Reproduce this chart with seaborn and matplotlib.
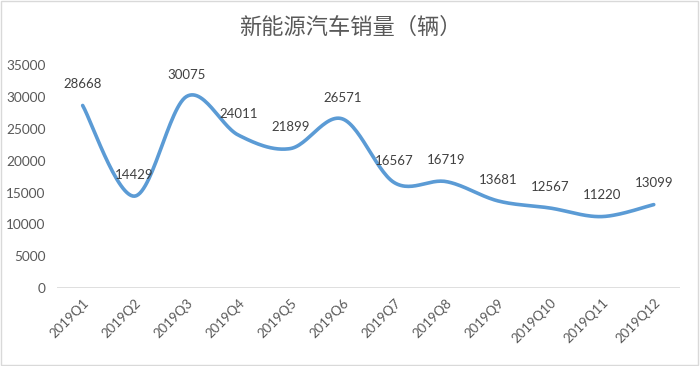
import numpy as np
import pandas as pd
import matplotlib
matplotlib.use("Agg")
import matplotlib.pyplot as plt
import seaborn as sns

# chart data
quarters = ["2019Q1", "2019Q2", "2019Q3", "2019Q4", "2019Q5", "2019Q6",
            "2019Q7", "2019Q8", "2019Q9", "2019Q10", "2019Q11", "2019Q12"]
sales = [28668, 14429, 30075, 24011, 21899, 26571,
         16567, 16719, 13681, 12567, 11220, 13099]
y_ticks = [0, 5000, 10000, 15000, 20000, 25000, 30000, 35000]
title = "新能源汽车销量（辆）"

sns.set_theme(style="white")
plt.rcParams['font.family'] = ['Noto Sans CJK SC', 'DejaVu Sans']


# Excel-like smoothed line: cubic bezier segments through the data points
def smooth_curve(xs, ys, steps=30):
    px = np.array(xs, dtype=float)
    py = np.array(ys, dtype=float)
    n = len(px)
    out_x, out_y = [], []
    t = np.linspace(0, 1, steps)
    for i in range(n - 1):
        i0, i3 = max(i - 1, 0), min(i + 2, n - 1)
        p0 = np.array([px[i], py[i]])
        p3 = np.array([px[i + 1], py[i + 1]])
        c1 = p0 + (np.array([px[i + 1], py[i + 1]]) - np.array([px[i0], py[i0]])) / 6
        c2 = p3 - (np.array([px[i3], py[i3]]) - np.array([px[i], py[i]])) / 6
        b = ((1 - t) ** 3)[:, None] * p0 + (3 * (1 - t) ** 2 * t)[:, None] * c1 \
            + (3 * (1 - t) * t ** 2)[:, None] * c2 + (t ** 3)[:, None] * p3
        out_x.extend(b[:, 0])
        out_y.extend(b[:, 1])
    return out_x, out_y


pos = list(range(len(quarters)))
sx, sy = smooth_curve(pos, sales)
curve = pd.DataFrame({"x": sx, "y": sy})

fig = plt.figure(figsize=(7, 3.66), dpi=100)
ax = fig.add_axes([0.081, 0.213, 0.890, 0.609])

sns.lineplot(data=curve, x="x", y="y", ax=ax, color="#5B9BD5",
             linewidth=2.6, sort=False, estimator=None)

for i, v in enumerate(sales):
    ax.annotate(str(v), (i, v), xytext=(0, 11), textcoords="offset points",
                ha="center", va="bottom", fontsize=9.5, color="#404040",
                family=["Lato", "DejaVu Sans"])

ax.set_xlim(-0.5, len(quarters) - 0.5)
ax.set_ylim(0, 35000)
ax.set_yticks(y_ticks)
ax.set_yticklabels([str(v) for v in y_ticks], fontsize=9.8, color="#595959",
                   family=["Lato", "DejaVu Sans"])
ax.set_xticks(pos)
ax.set_xticklabels(quarters, rotation=45, ha="right", rotation_mode="anchor",
                   fontsize=9.5, color="#595959", family=["Lato", "DejaVu Sans"])
ax.tick_params(axis="both", length=0)
ax.tick_params(axis="y", pad=8)
ax.tick_params(axis="x", pad=6)
ax.set_xlabel("")
ax.set_ylabel("")
for s in ax.spines.values():
    s.set_visible(False)
ax.axhline(0, color="#D9D9D9", linewidth=1.2, zorder=0)

fig.text(0.5, 0.924, title, ha="center", va="center", fontsize=16,
         color="#595959")

# light frame around the chart area
fig.patches.append(plt.Rectangle((0.002, 0.003), 0.995, 0.993, transform=fig.transFigure,
                                 fill=False, edgecolor="#D9D9D9", linewidth=1))

fig.savefig("out.png", dpi=100, facecolor="white")
